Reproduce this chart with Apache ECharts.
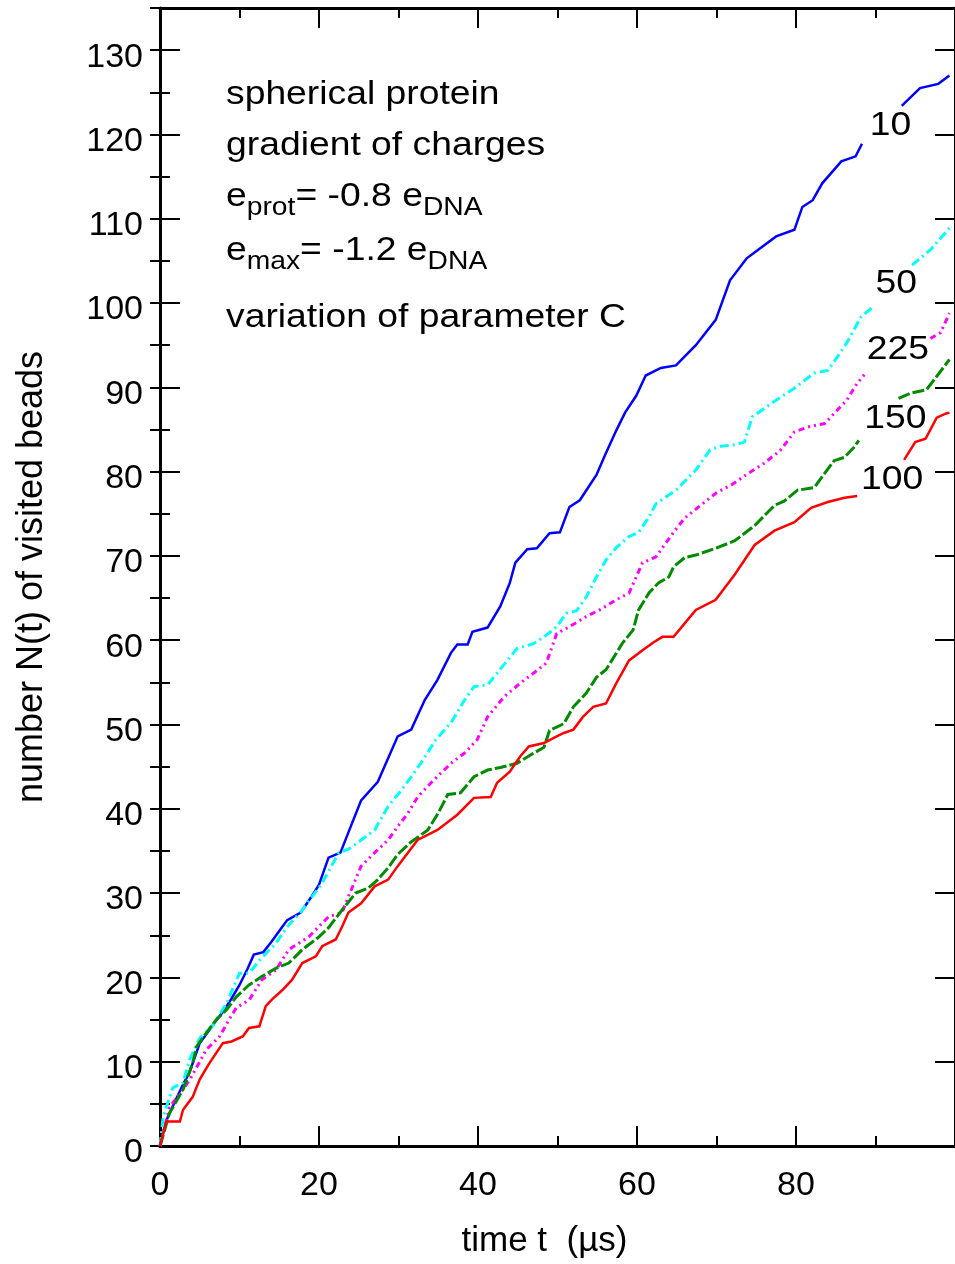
<!DOCTYPE html>
<html><head><meta charset="utf-8">
<script src="https://cdn.jsdelivr.net/npm/echarts@6/dist/echarts.min.js"></script>
<style>html,body{margin:0;padding:0;background:#fff}#c{width:955px;height:1264px}</style>
</head><body><div id="c"></div>
<script>
const FONT = '"Liberation Sans", Arial, Helvetica, sans-serif';

// ---- data (time t in µs, N(t) visited beads); null = gap where label sits ----
const t10 = [0,0.5,1,2,3,3.7,5,6,7,8,9,10,11,11.8,13,14,15,16,17.7,19,20,21.2,22.7,23.7,25.3,27.4,29.9,31.6,33.3,34.9,36.6,37.4,38.7,39.3,41.2,42.8,44,44.7,46.2,47.4,49,50.3,51.5,52.8,54.9,56,57.4,58.5,59.9,61.1,63,64.9,67.4,69.9,71.7,73.8,75.5,77.5,79.8,80.8,82.1,83.3,85.7,87.5,88.3,90,93.3,95.6,97.9,99.3];
const n10 = [0,2,3.5,5.5,7.5,8.7,12.2,13.5,14.8,16,17.5,19.1,21,22.7,23,24.2,25.5,26.8,27.7,29.5,31,34.2,34.8,37.2,41,43.2,48.6,49.4,52.9,55.3,58.5,59.5,59.5,61,61.5,64,66.8,69.2,70.8,70.9,72.7,72.8,75.8,76.6,79.6,82,84.9,87,89,91.4,92.3,92.6,95,98,102.7,105.3,106.5,107.9,108.7,111.4,112.2,114.2,116.8,117.4,118.9,null,123.4,125.5,126,127];

const t50 = [0,0.4,1.6,2.9,3.7,5,6.6,8.4,10,11.2,12.5,14.6,16,17.9,20.4,22.5,23.7,25.3,27,28.7,30.1,31.6,32.8,34.7,36.6,38.3,39.5,41.2,42.4,43.7,44.9,47,48.6,49.9,51.1,52.4,53.6,54.9,56.1,57.4,59,60.2,61.5,62.4,64.9,67.4,69.2,70.5,72.3,73.5,74.5,76,78,79.8,82.3,84,85.2,86.4,88.2,89.8,92,94.6,96.9,99.3];
const n50 = [0,3.5,6.9,7.5,10.2,12.8,14.2,17,20.5,20.5,22,24.1,26,28,31.2,34.8,35.2,36.3,37.5,40.3,41.9,43.8,45.4,48.2,50.2,52.9,54.5,54.7,56.1,57.6,59,59.6,60.6,61.6,63.2,63.5,65.1,67.5,69.5,71,72.3,72.8,74.6,76.2,77.8,80.2,82.6,83,83.2,83.5,86.5,87.5,88.8,89.9,91.7,92,93.6,95.3,98.4,99.6,null,104.5,106.3,108.9];

const t225 = [0,1.2,2.5,3.7,5,5.8,7.5,8.7,9.6,11.2,12.8,14.6,16.2,18.7,21.2,22.9,23.7,25.3,27,28.7,29.9,31.2,32.4,34.1,36.6,38.3,39.9,41.2,43.3,45.3,47,48.6,49.9,51.5,53.6,55.3,57.4,59,60.7,62.4,63.6,64.6,66,68,70,72,74,76,78,79.8,81.5,83.6,85.2,86.4,87.7,88.6,92,96.9,98.2,99.3];
const n225 = [0,4.6,6.2,7.8,10,11.4,13,15,16.4,17.3,19.7,20.9,23.3,24.8,27.2,27.7,29.6,33.2,34.8,36.3,37.9,39.5,41.4,43.1,45.4,46.6,48.2,50.9,53.3,54.9,56.1,57.3,60.8,61.6,62.8,63.6,64.8,65.6,69.2,69.9,71.5,72.8,74.5,76,77.5,78.5,79.8,81,82.5,84.7,85.3,85.7,87.3,88.5,90.5,91.5,null,95.8,96.5,98.8];

const t150 = [0,1.2,2.9,4.1,4.6,5.8,7.1,8.4,9.6,11.2,12.8,14.6,16.2,17.9,20,21.2,22.9,24.6,26.2,27.4,28.7,29.9,31.5,33.7,35,36.2,37.8,39.5,41.2,42.8,44.9,47,48.3,49,50.8,52,53.6,54.9,56.1,58.2,59.5,60.2,61.5,62.7,64,64.6,66,67.4,69.9,72.3,74.8,77.3,78.5,80.2,82.3,83.2,84.8,86.1,87.3,87.9,90,92.9,94.4,96.4,97.7,99.3];
const n150 = [0,3.9,6.7,9.8,11.8,13.4,15,16.2,17.7,19.1,20.1,21.1,21.7,23.3,24.8,25.9,28,30,30.6,31.6,33,34.6,36,37.5,39.5,41.7,41.9,43.8,44.6,44.9,45.4,46.6,47.3,49.3,50.1,52.1,53.7,55.6,56.5,59.7,61.2,63.6,65.6,66.8,67.5,68.7,69.8,70.1,70.9,71.8,73.6,76,76.5,77.8,78.1,79.3,81.3,81.7,82.9,83.7,null,88.7,89.3,89.7,91.3,93.3];

const t100 = [0,0.8,2.5,2.9,4.1,5,6.2,7.9,9,10.4,11.2,12.5,13.3,14.1,15.4,16.6,17.9,19.6,20.4,22.1,22.9,23.7,25.3,27,28.7,29.9,32.4,34.9,37.4,39.5,41.6,42.4,44,45.3,46.4,48.3,49.9,50.8,52,53.2,54.5,56.1,57.4,59,60.7,62,63.2,64.6,66,67.4,69.9,72.3,74.8,77.3,79.8,81.9,84,86.1,87.7,90,93.6,95,96.3,97.7,98.9,99.3];
const n100 = [0,2.9,2.9,4.3,5.8,7.9,9.8,12.2,12.4,13,14,14.2,16.6,17.4,18.5,19.7,21.7,22.5,23.7,24.5,26,27.7,28.8,30.8,31.6,33.2,36.3,37.5,39.3,41.3,41.4,43.1,44.4,46.2,47.4,47.8,48.6,49,49.4,50.9,52.1,52.5,54.9,57.6,58.8,59.7,60.4,60.4,62,63.6,64.8,67.8,71.3,73,74,75.7,76.4,76.9,77.1,null,81.4,83.5,83.9,86.4,86.9,87];

const curveNames = ['10','50','225','150','100'];
const curveT = [t10, t50, t225, t150, t100];
const curveN = [n10, n50, n225, n150, n100];
const curveColors = ['#0000ff','#00ffff','#ff00ff','#008a00','#ff0000'];
// label anchor positions in data coordinates (t, N)
const labelT = [91.9, 92.6, 92.8, 92.5, 92.1];
const labelN = [121.0, 102.3, 94.4, 86.3, 79.0];

const xTitle = 'time t  (\u00b5s)';
const yTitle = 'number N(t) of visited beads';
const infoLines = [
  [['spherical protein', 0]],
  [['gradient of charges', 0]],
  [['e', 0], ['prot', 1], ['= -0.8 e', 0], ['DNA', 1]],
  [['e', 0], ['max', 1], ['= -1.2 e', 0], ['DNA', 1]],
  [['variation of parameter C', 0]]
];

// ---- styles ----
const lineStyles = [
  {width: 2.5, type: 'solid'},
  {width: 3, type: [9, 4, 2, 4]},
  {width: 3, type: [6, 4, 2, 4, 2, 4]},
  {width: 3, type: [12, 3]},
  {width: 2.5, type: 'solid'}
];

function pairs(ts, ns) {
  return ts.map((t, i) => ns[i] === null ? [t, '-'] : [t, ns[i]]);
}

const axLine = {show: true, onZero: false, lineStyle: {color: '#000', width: 3}};
const tickBig = {show: true, inside: true, length: 20, lineStyle: {color: '#000', width: 2}};
const tickSmall = {show: true, inside: true, length: 10, lineStyle: {color: '#000', width: 2}};
const noLabel = {show: false};
const lblStyle = {color: '#000', fontSize: 34, fontFamily: FONT};

const chart = echarts.init(document.getElementById('c'), null, {renderer: 'canvas'});
const option = {
  animation: false,
  backgroundColor: '#fff',
  grid: {left: 160, right: -7, top: 8, bottom: 118, containLabel: false},
  xAxis: [
    {type: 'value', min: 0, max: 100, interval: 20, position: 'bottom',
     axisLine: axLine, axisTick: tickBig,
     minorTick: {show: true, splitNumber: 2, length: 10, lineStyle: {color: '#000', width: 2}},
     splitLine: {show: false}, minorSplitLine: {show: false},
     axisLabel: Object.assign({margin: 23, showMaxLabel: false}, lblStyle),
     name: xTitle, nameLocation: 'middle', nameGap: 78,
     nameTextStyle: {color: '#000', fontSize: 35, fontFamily: FONT, padding: [0, 26, 0, 0]}},
    {type: 'value', min: 0, max: 100, interval: 20, position: 'top',
     axisLine: axLine, axisTick: tickBig,
     minorTick: {show: true, splitNumber: 2, length: 10, lineStyle: {color: '#000', width: 2}},
     splitLine: {show: false}, axisLabel: noLabel}
  ],
  yAxis: [
    {type: 'value', min: 0, max: 135, interval: 10, position: 'left',
     axisLine: axLine, axisTick: tickBig, splitLine: {show: false},
     axisLabel: Object.assign({margin: 17, showMaxLabel: false, verticalAlign: 'top', lineHeight: 14}, lblStyle),
     name: yTitle, nameLocation: 'middle', nameGap: 110,
     nameTextStyle: {color: '#000', fontSize: 36, fontFamily: FONT}},
    {type: 'value', min: 0, max: 135, interval: 5, position: 'left',
     axisLine: {show: false}, axisTick: tickSmall, splitLine: {show: false}, axisLabel: noLabel},
    {type: 'value', min: 0, max: 135, interval: 10, position: 'right',
     axisLine: axLine, axisTick: tickBig, splitLine: {show: false}, axisLabel: noLabel},
    {type: 'value', min: 0, max: 135, interval: 5, position: 'right',
     axisLine: {show: false}, axisTick: tickSmall, splitLine: {show: false}, axisLabel: noLabel}
  ],
  series: curveNames.map((nm, i) => ({
    name: nm, type: 'line', xAxisIndex: 0, yAxisIndex: 0,
    data: pairs(curveT[i], curveN[i]),
    symbol: 'none', connectNulls: false, z: 3,
    lineStyle: Object.assign({color: curveColors[i], cap: 'butt', join: 'miter'}, lineStyles[i]),
    itemStyle: {color: curveColors[i]}
  }))
};
chart.setOption(option);

// ---- text annotations ----
const SX = 1.13;
const mctx = document.createElement('canvas').getContext('2d');
function tw(text, size) { mctx.font = size + 'px ' + FONT; return mctx.measureText(text).width; }

const graphics = [];
const MAIN = 33, SUB = 25;
const infoX = 226;
const baselines = [106, 157, 208, 262, 329];
infoLines.forEach((line, li) => {
  let cx = infoX;
  line.forEach(([txt, sub]) => {
    const size = sub ? SUB : MAIN;
    const base = baselines[li] + (sub ? 9 : 0);
    graphics.push({
      type: 'text', x: cx, y: base - 0.3465 * size, scaleX: SX, z: 100,
      style: {text: txt, font: size + 'px ' + FONT, fill: '#000', align: 'left', verticalAlign: 'middle'}
    });
    cx += tw(txt, size) * SX;
  });
});
curveNames.forEach((nm, i) => {
  const p = chart.convertToPixel({xAxisIndex: 0, yAxisIndex: 0}, [labelT[i], labelN[i]]);
  graphics.push({
    type: 'text', x: p[0], y: p[1], scaleX: SX, z: 100,
    style: {text: nm, font: MAIN + 'px ' + FONT, fill: '#000', align: 'center', verticalAlign: 'middle'}
  });
});
chart.setOption({graphic: graphics});
</script>
</body></html>
